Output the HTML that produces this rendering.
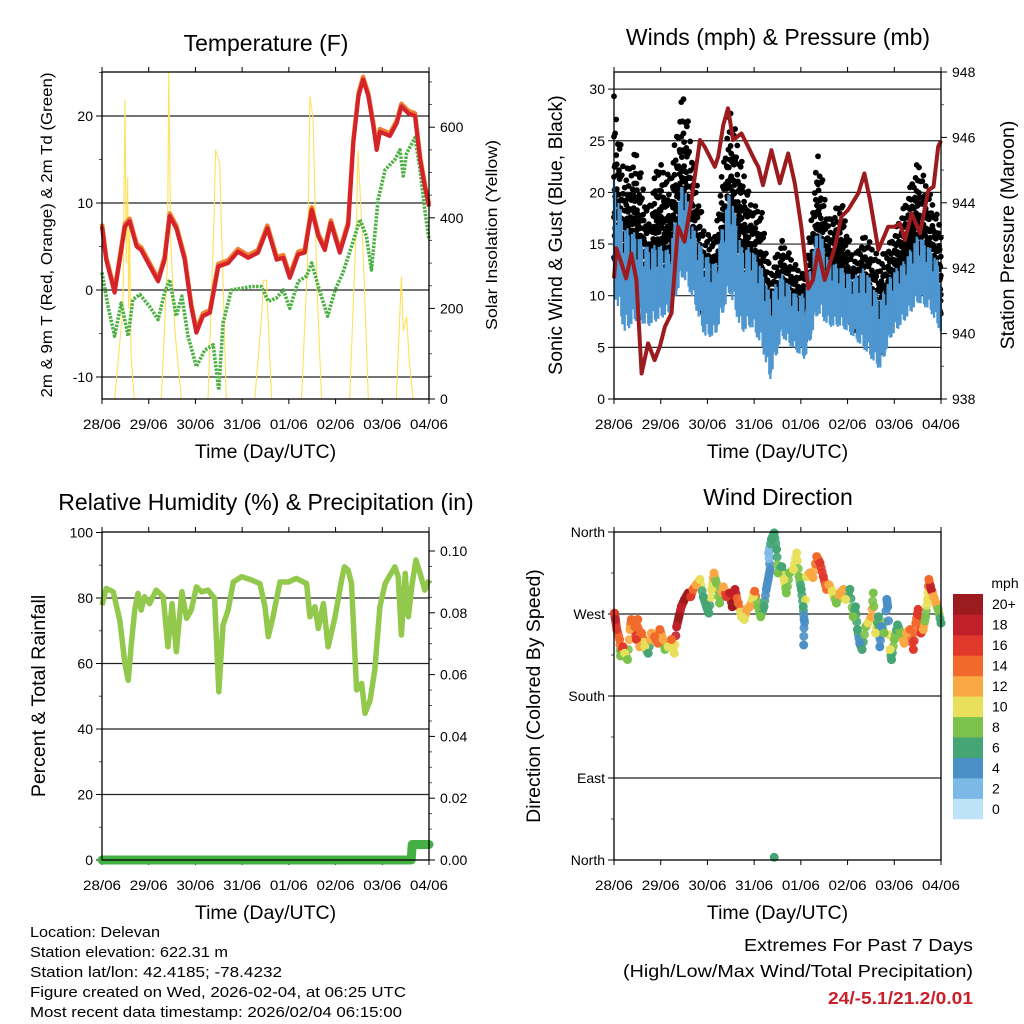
<!DOCTYPE html>
<html><head><meta charset="utf-8"><style>
html,body{margin:0;padding:0;background:#fff;}
svg{display:block;font-family:"Liberation Sans",Arial,sans-serif;}
</style></head><body>
<svg id="chart" width="1024" height="1024" viewBox="0 0 1024 1024" xmlns="http://www.w3.org/2000/svg">
<rect x="0" y="0" width="1024" height="1024" fill="#fff"/>
<g id="layer"></g>
</svg>
<script>
// ---------- DATA ----------
const dayLabels = ["28/06","29/06","30/06","31/06","01/06","02/06","03/06","04/06"];
// Temperature (F)
const tempT = [0,.09,.27,.38,.49,.59,.74,.84,.99,1.2,1.34,1.45,1.59,1.77,1.91,2.02,2.16,2.31,2.49,2.7,2.91,3.13,3.34,3.54,3.74,3.88,4.02,4.2,4.34,4.49,4.63,4.77,4.9,5.09,5.27,5.38,5.49,5.59,5.7,5.81,5.88,5.95,6.16,6.31,6.41,6.56,6.7,6.81,6.91,7];
const tempV = [7.3,3.5,-0.3,3.5,7.3,7.9,5,4.6,3.1,1,3.5,8.5,7.1,3.5,-1.9,-4.9,-3,-2.6,2.7,3.1,4.4,3.7,4.3,7.1,3.5,3.7,1.4,4.1,4.3,9.2,6.2,4.6,7.7,4.3,7.5,16.9,22.3,24.2,22.3,18.8,16.1,18.2,17.7,19.2,21.1,20.3,20,15,11.9,9.6];
const dewT = [0,.13,.27,.41,.56,.66,.81,1.02,1.2,1.34,1.45,1.59,1.71,1.84,2.02,2.2,2.38,2.5,2.59,2.77,2.99,3.2,3.41,3.56,3.74,3.88,4.02,4.2,4.38,4.49,4.63,4.83,4.99,5.16,5.34,5.52,5.66,5.77,5.91,6.06,6.27,6.38,6.45,6.52,6.7,6.81,6.91,7];
const dewV = [2,-1.9,-5.3,-1.5,-5.3,-1.1,-0.5,-1.9,-3.4,-0.3,1.2,-3,-0.7,-5.3,-8.8,-6.9,-6.3,-11.5,-3.8,0,0.2,0.4,0.4,-1.3,-0.9,0,-2.1,1,1.6,3.1,0.4,-3,0,2,5,8.1,6.2,2.3,10.4,13.8,15,16.1,13.1,15.7,17.5,13.8,9.2,5.8];
const solarT = [0,.27,.45,.49,.52,.55,.57,.59,.62,.69,1.27,1.4,1.43,1.47,1.56,1.7,2.27,2.4,2.43,2.52,2.66,3.27,3.43,3.45,3.52,3.63,4.27,4.4,4.45,4.52,4.6,4.7,5.3,5.45,5.48,5.6,5.7,6.3,6.41,6.45,6.52,6.58,6.66,7];
const solarV = [0,0,200,660,300,490,200,380,100,0,0,300,722,350,150,0,0,400,550,520,0,0,200,262,262,0,0,300,667,620,250,0,0,400,549,300,0,0,270,150,182,80,0,0];
// Winds (mph) & pressure (mb)
const windT = [0,.23,.48,.73,.94,1.19,1.48,1.69,1.94,2.16,2.48,2.73,2.94,3.16,3.34,3.59,3.87,4.09,4.37,4.59,4.87,5.12,5.37,5.69,5.94,6.23,6.51,6.76,7];
const gustHi = [29.3,21.8,24.1,18.3,23.1,21.5,29.9,23.8,16,15.7,28.6,23.1,18.9,18.3,12.2,15.4,13.1,11.8,24.1,17.3,19.3,13.5,16,13.5,15.4,18.9,23.1,19.9,16.7];
const gustLo = [14.7,12.5,13.7,9.9,14,12.5,16.9,13.7,8.6,9.2,16.3,13.1,11.8,9.9,6,9.2,7.6,6.6,13.7,9.9,11.8,7.6,9.2,5.4,9.2,12.5,13.7,12.5,9.2];
const windHi = [21.2,16.7,16,14.7,15,14.4,21.5,16.7,14.1,13.1,20.5,14.7,14.7,12.8,10.2,12.2,10.2,10.2,17,13.5,12.8,11.8,12.8,9.6,12.2,13.5,16,14.7,12.8];
const windLo = [10.2,6.4,7.6,7,7.6,8.3,11.8,9.6,6,6,10.2,6.4,7,5.1,1.8,6,4.7,3.8,8.3,7,7,6,4.7,2.8,6,7.6,9.3,8.6,6.4];
const presT = [0,.05,.16,.26,.37,.48,.59,.73,.87,.98,1.09,1.23,1.37,1.51,1.66,1.84,1.94,2.16,2.23,2.34,2.44,2.55,2.73,2.87,3.01,3.09,3.19,3.37,3.55,3.73,3.87,4.01,4.16,4.26,4.37,4.51,4.73,4.87,5.01,5.23,5.36,5.48,5.66,5.87,6.01,6.12,6.23,6.37,6.55,6.73,6.84,6.94,7];
const presV = [941.69,942.61,942.15,941.69,942.45,941.64,938.78,939.7,939.19,939.6,940.21,940.62,943.27,942.81,944.09,945.92,945.72,945.1,945.41,946.38,946.89,945.92,946.12,945.72,945.31,945.1,944.54,945.61,944.6,945.51,944.6,943.27,941.38,941.64,942.56,941.64,942.66,943.58,943.78,944.29,944.9,944.09,942.56,943.27,943.27,943.37,942.86,943.68,943.07,944.39,944.49,945.72,945.9];
// Relative humidity (%) & precipitation (in)
const rhT = [0,.09,.24,.38,.49,.56,.63,.7,.77,.84,.91,1.02,1.16,1.31,1.41,1.5,1.59,1.71,1.81,1.91,2.02,2.13,2.27,2.41,2.5,2.59,2.7,2.81,2.99,3.2,3.38,3.49,3.56,3.66,3.81,3.99,4.16,4.38,4.45,4.56,4.63,4.74,4.84,4.99,5.13,5.19,5.27,5.34,5.45,5.56,5.63,5.74,5.84,5.95,6.06,6.27,6.34,6.41,6.49,6.56,6.63,6.72,6.81,6.91,7];
const rhV = [77.8,82.9,81.9,73.2,60,54.9,66.1,76.3,81.4,76.3,80.4,78.3,82.4,80.4,65.1,78.3,63.6,81.9,73.8,76.3,83.4,81.9,82.4,79.9,51.4,71.7,76.3,84.9,86.5,85.5,84.4,77.3,68.2,74.3,84.9,84.9,86,84.4,74.3,77.3,70.7,78.3,65.1,74.3,85.5,89.5,88.5,84.4,51.9,53.9,44.8,48.8,58,77.3,84.4,89.5,86.5,68.7,87.5,74.3,83.4,91.6,87.5,82.4,85.5];
const precT = [0,6.62,6.64,7];
const precV = [0,0,0.005,0.005];
// Wind direction (deg) colored by speed (mph)
const dirT = [.01,.03,.06,.12,.14,.19,.23,.29,.34,.37,.44,.48,.51,.55,.59,.66,.73,.8,.87,.94,.98,1.05,1.09,1.16,1.23,1.29,1.34,1.39,1.44,1.51,1.59,1.64,1.69,1.76,1.84,1.91,1.98,2.03,2.09,2.14,2.19,2.26,2.34,2.41,2.48,2.53,2.59,2.66,2.73,2.79,2.84,2.91,2.98,3.01,3.09,3.14,3.21,3.26,3.3,3.34,3.31,3.37,3.43,3.48,3.51,3.59,3.64,3.69,3.76,3.84,3.91,3.96,4.01,4.05,4.07,4.06,4.12,4.19,4.26,4.34,4.41,4.48,4.55,4.6,4.67,4.76,4.84,4.91,4.96,5.05,5.12,5.17,5.21,5.26,5.31,5.39,5.44,5.51,5.55,5.6,5.66,5.69,5.73,5.78,5.84,5.86,5.91,5.94,6,6.07,6.14,6.21,6.26,6.34,6.41,6.46,6.51,6.57,6.62,6.67,6.71,6.74,6.79,6.84,6.89,6.94,7.0,3.43];
const dirDeg = [271,264,253,242,224,234,227,220,253,264,256,242,264,234,249,234,227,249,245,238,253,242,231,234,242,227,256,267,278,286,293,289,297,302,308,289,278,271,297,315,304,282,300,289,293,278,297,282,267,264,275,278,289,295,278,267,278,297,308,319,337,352,359,341,315,322,308,293,315,319,337,311,297,278,264,236,311,315,310,333,326,311,297,302,295,282,293,297,286,297,267,278,253,238,231,256,260,267,293,249,267,234,256,249,286,278,231,220,242,258,249,238,249,253,231,260,275,249,253,267,286,308,297,289,282,275,260,3];
const dirSpd = [16,18,16,14,9,16,10,9,13,14,15,16,14,12,14,10,7,12,14,14,15,13,8,10,14,10,18,20,18,20,20,16,14,12,10,7,6,6,10,12,9,8,13,16,18,20,18,14,11,10,13,12,10,14,8,8,7,5,4,4,3,7,7,7,9,7,10,9,8,10,10,8,7,6,4,4,10,13,12,14,16,17,15,12,10,9,13,12,11,7,8,7,6,5,7,9,11,12,9,10,6,4,5,8,5,4,10,7,8,7,9,12,13,14,16,15,16,17,12,9,10,14,18,12,12,8,7,6];
const spdLabels = ["0","2","4","6","8","10","12","14","16","18","20+"];
const spdColors = ["#bde3f8","#7cb9e6","#4b8fc7","#45a574","#7bc24c","#e8e05a","#f9a843","#f16a2c","#e0392b","#c0202a","#9b1b1e"];

// ---------- RENDER ----------
const NS = "http://www.w3.org/2000/svg";
const layer = document.getElementById("layer");
function mk(tag, attrs, parent) {
  const e = document.createElementNS(NS, tag);
  for (const k in attrs) e.setAttribute(k, attrs[k]);
  (parent || layer).appendChild(e);
  return e;
}
function txt(s, x, y, size, anchor, parent, extra) {
  const t = mk("text", Object.assign({x: x, y: y, "font-size": size, "text-anchor": anchor || "middle", fill: "#000"}, extra || {}), parent);
  t.textContent = s;
  return t;
}
function interp(ts, vs, t) {
  if (t <= ts[0]) return vs[0];
  for (let i = 1; i < ts.length; i++) if (t <= ts[i]) {
    const f = (t - ts[i-1]) / (ts[i] - ts[i-1] || 1);
    return vs[i-1] + f * (vs[i] - vs[i-1]);
  }
  return vs[vs.length-1];
}
function pathFrom(ts, vs, xf, yf) {
  return ts.map((t, i) => (i ? "L" : "M") + xf(t).toFixed(1) + "," + yf(vs[i]).toFixed(1)).join(" ");
}
const PW = 327;
function xAxis(x0, y0, y1, g) {
  const xf = d => x0 + d * PW / 7;
  dayLabels.forEach((lab, i) => {
    const x = xf(i);
    mk("line", {x1: x, y1: y1, x2: x, y2: y1 + 5, stroke: "#000", "stroke-width": 1}, g);
    mk("line", {x1: x, y1: y0, x2: x, y2: y0 - 5, stroke: "#000", "stroke-width": 1}, g);
    const t = txt(lab, x, y1 + 30, 13.5, "middle", g, {textLength: 38, lengthAdjust: "spacingAndGlyphs"});
    
    
  });
  const tt = txt("Time (Day/UTC)", x0 + PW / 2, y1 + 59, 19.5, "middle", g);
  
  
  return xf;
}
function box(x0, y0, y1, g) {
  mk("rect", {x: x0, y: y0, width: PW, height: y1 - y0, fill: "none", stroke: "#000", "stroke-width": 1.3}, g);
}
function yTicks(vals, labels, yf, x, side, g, withGrid, x0, gridName) {
  vals.forEach((v, i) => {
    const y = yf(v);
    if (withGrid) {
      const gl = mk("line", {x1: x0, y1: y, x2: x0 + PW, y2: y, stroke: "#222", "stroke-width": 1.2}, g);
      
      
    }
    mk("line", {x1: x, y1: y, x2: x + (side < 0 ? -6 : 6), y2: y, stroke: "#000", "stroke-width": 1}, g);
    if (labels[i] !== "") {
      const t = txt(labels[i], side < 0 ? x - 9 : x + 11, y + 5, 14, side < 0 ? "end" : "start", g);
      
      
    }
  });
}
function minor(vals, yf, x, side, g) {
  vals.forEach(v => { const y = yf(v); mk("line", {x1: x, y1: y, x2: x + (side < 0 ? -3 : 3), y2: y, stroke: "#555", "stroke-width": 1}, g); });
}
function rotTitle(s, x, y, size, g, name, len) {
  const ex = {transform: "rotate(-90 " + x + " " + y + ")"};
  if (len) { ex.textLength = len; ex.lengthAdjust = "spacingAndGlyphs"; }
  const t = txt(s, x, y, size, "middle", g, ex);
  
  
}
function title(s, x, y, g, name) {
  const t = txt(s, x, y, 23, "middle", g);
  
  
}

// ===== Panel 1: Temperature =====
(function(){
  const g = mk("g", {});
  
  
  const X0 = 102, Y0 = 72, Y1 = 399;
  const yf = v => 290 - v * 8.7;
  const yS = v => 399 - v * 0.453;
  title("Temperature (F)", 266, 51, g, "temperature-title");
  yTicks([20,10,0,-10], ["20","10","0","-10"], yf, X0, -1, g, true, X0, "temp-gridline");
  minor([25,15,5,-5], yf, X0, -1, g);
  yTicks([600,400,200,0], ["600","400","200","0"], yS, X0 + PW, 1, g, false);
  minor([50,100,150,250,300,350,450,500,550,650,700], yS, X0 + PW, 1, g);
  const xf = xAxis(X0, Y0, Y1, g);
  const sol = mk("path", {d: pathFrom(solarT, solarV, xf, yS), fill: "none", stroke: "#ffe15a", "stroke-width": 1.1}, g);
  
  
  const dew = mk("path", {d: pathFrom(dewT, dewV, xf, yf), fill: "none", stroke: "#4cb044", "stroke-width": 3.6, "stroke-dasharray": "2.4 1.3", "stroke-linejoin": "round"}, g);
  
  
  const t9 = mk("path", {d: pathFrom(tempT, tempV.map(v => v + 0.3), xf, yf), fill: "none", stroke: "#f08030", "stroke-width": 4.5, "stroke-linejoin": "round"}, g);
  
  
  const t2 = mk("path", {d: pathFrom(tempT, tempV, xf, yf), fill: "none", stroke: "#d4232a", "stroke-width": 4.2, "stroke-linejoin": "round"}, g);
  
  
  box(X0, Y0, Y1, g);
  rotTitle("2m & 9m T (Red, Orange) & 2m Td (Green)", 52, 235, 16, g, "temperature-y-axis-title", 325);
  rotTitle("Solar Insolation (Yellow)", 497, 235, 16, g, "solar-y-axis-title", 190);
})();

// ===== Panel 2: Winds & pressure =====
(function(){
  const g = mk("g", {});
  
  
  const X0 = 614, Y0 = 72, Y1 = 399;
  const yf = v => 399 - v * 10.33;
  const yP = v => 399 - (v - 938) * 32.7;
  title("Winds (mph) & Pressure (mb)", 778, 45, g, "winds-title");
  yTicks([30,25,20,15,10,5,0], ["30","25","20","15","10","5","0"], yf, X0, -1, g, true, X0, "wind-gridline");
  yTicks([948,946,944,942,940,938], ["948","946","944","942","940","938"], yP, X0 + PW, 1, g, false);
  minor([947,945,943,941,939], yP, X0 + PW, 1, g);
  const xf = xAxis(X0, Y0, Y1, g);
  const pat = [1,0.55,0.8,0.35,0.95,0.65,0.45,0.85,0.25,0.7,0.9,0.5];
  // gust dots
  const gg = mk("g", {fill: "#000"}, g);
  
  
  let k = 0;
  for (let t = 0; t <= 7; t += 0.012) {
    const hi = interp(windT, gustHi, t), lo = interp(windT, gustLo, t);
    const top = lo + (hi - lo) * pat[k % pat.length];
    const n = 5;
    for (let j = 0; j < n; j++) {
      const v = lo - 1 + (top - lo + 1) * (j / (n - 1));
      mk("circle", {cx: xf(t).toFixed(1), cy: yf(v).toFixed(1), r: 2.9}, gg);
    }
    k++;
  }
  // wind spikes
  const wb = mk("g", {stroke: "#4e96d0", "stroke-width": 2.3}, g);
  
  
  k = 0;
  for (let t = 0; t <= 7; t += 0.012) {
    const hi = interp(windT, windHi, t), lo = interp(windT, windLo, t);
    const p = pat[(k * 5) % pat.length];
    const top = lo + (hi - lo) * (0.35 + 0.65 * p);
    const bot = lo + (hi - lo) * (0.35 * (1 - pat[(k * 7 + 3) % pat.length]));
    mk("line", {x1: xf(t).toFixed(1), x2: xf(t).toFixed(1), y1: yf(top).toFixed(1), y2: yf(bot).toFixed(1)}, wb);
    k++;
  }
  const pr = mk("path", {d: pathFrom(presT, presV, xf, yP), fill: "none", stroke: "#9b1b1e", "stroke-width": 4, "stroke-linejoin": "round"}, g);
  
  
  box(X0, Y0, Y1, g);
  rotTitle("Sonic Wind & Gust (Blue, Black)", 562, 235, 19.5, g, "wind-y-axis-title");
  rotTitle("Station Pressure (Maroon)", 1014, 235, 19.5, g, "pressure-y-axis-title");
})();

// ===== Panel 3: RH & precip =====
(function(){
  const g = mk("g", {});
  
  
  const X0 = 102, Y0 = 532, Y1 = 860;
  const yf = v => 860 - v * 3.275;
  const yR = v => 860 - v * 3090;
  title("Relative Humidity (%) & Precipitation (in)", 266, 510, g, "humidity-title");
  yTicks([100,80,60,40,20,0], ["100","80","60","40","20","0"], yf, X0, -1, g, false);
  [80,60,40,20].forEach(v => {
    const gl = mk("line", {x1: X0, y1: yf(v), x2: X0 + PW, y2: yf(v), stroke: "#222", "stroke-width": 1.2}, g);
    
    
  });
  minor([90,70,50,30,10], yf, X0, -1, g);
  yTicks([0.10,0.08,0.06,0.04,0.02,0.00], ["0.10","0.08","0.06","0.04","0.02","0.00"], yR, X0 + PW, 1, g, false);
  minor([0.09,0.07,0.05,0.03,0.01,0.005,0.015,0.025,0.035,0.045,0.055,0.065,0.075,0.085,0.095], yR, X0 + PW, 1, g);
  const xf = xAxis(X0, Y0, Y1, g);
  const rh = mk("path", {d: pathFrom(rhT, rhV, xf, yf), fill: "none", stroke: "#92c94c", "stroke-width": 5.5, "stroke-linejoin": "round"}, g);
  
  
  const pc = mk("path", {d: pathFrom(precT, precV, xf, yR), fill: "none", stroke: "#44b044", "stroke-width": 9, "stroke-linejoin": "round", "stroke-linecap": "round"}, g);
  
  
  box(X0, Y0, Y1, g);
  rotTitle("Percent & Total Rainfall", 45, 696, 19.5, g, "humidity-y-axis-title");
})();

// ===== Panel 4: Wind direction =====
(function(){
  const g = mk("g", {});
  
  
  const X0 = 614, Y0 = 532, Y1 = 860;
  const yf = v => 860 - v * 328 / 360;
  title("Wind Direction", 778, 505, g, "wind-direction-title");
  yTicks([360,270,180,90,0], ["North","West","South","East","North"], yf, X0, -1, g, false);
  [270,180,90].forEach(v => {
    const gl = mk("line", {x1: X0, y1: yf(v), x2: X0 + PW, y2: yf(v), stroke: "#222", "stroke-width": 1.2}, g);
    
    
  });
  minor([315,225,135,45], yf, X0, -1, g);
  const xf = xAxis(X0, Y0, Y1, g);
  const col = s => spdColors[Math.min(10, Math.max(0, Math.floor(s / 2)))];
  const dg = mk("g", {}, g);
  
  
  for (let i = 0; i < dirT.length - 1; i++) {
    if (Math.abs(dirT[i+1] - dirT[i]) < 0.12) {
      for (const f of [0.33, 0.66]) {
        const t = dirT[i] + f * (dirT[i+1] - dirT[i]);
        const d = dirDeg[i] + f * (dirDeg[i+1] - dirDeg[i]);
        const s = f < 0.5 ? dirSpd[i] : dirSpd[i+1];
        const c = mk("circle", {cx: xf(t).toFixed(1), cy: yf(d).toFixed(1), r: 4.5, fill: col(s), "fill-opacity": 0.9}, dg);
        
        
      }
    }
  }
  dirT.forEach((t, i) => {
    const c = mk("circle", {cx: xf(t).toFixed(1), cy: yf(dirDeg[i]).toFixed(1), r: 4.5, fill: col(dirSpd[i])}, dg);
    
    
  });
  box(X0, Y0, Y1, g);
  rotTitle("Direction (Colored By Speed)", 540, 696, 19.5, g, "direction-y-axis-title");
  // color bar
  const cb = mk("g", {}, g);
  
  
  const mphT = txt("mph", 1005, 588, 14, "middle", cb);
  
  
  const bh = 225 / 11;
  spdLabels.forEach((lab, i) => {
    const y = 594 + (10 - i) * bh;
    const r = mk("rect", {x: 953, y: y.toFixed(1), width: 30, height: (bh + 0.3).toFixed(1), fill: spdColors[i]}, cb);
    
    
    const t = txt(lab, 992, y + bh / 2 + 5, 14, "start", cb);
    
    
  });
})();

// ===== Footer =====
(function(){
  const g = mk("g", {});
  
  
  const lines = [["Location: Delevan",130],["Station elevation: 622.31 m",198],["Station lat/lon: 42.4185; -78.4232",252],["Figure created on Wed, 2026-02-04, at 06:25 UTC",376],["Most recent data timestamp: 2026/02/04 06:15:00",372]];
  lines.forEach((l, i) => {
    const t = txt(l[0], 30, 937 + i * 20, 15, "start", g, {textLength: l[1], lengthAdjust: "spacingAndGlyphs"});
    
    
  });
  const e = mk("g", {});
  
  
  const a = txt("Extremes For Past 7 Days", 973, 951, 17.5, "end", e, {textLength: 229, lengthAdjust: "spacingAndGlyphs"});
  
  
  const b = txt("(High/Low/Max Wind/Total Precipitation)", 973, 977, 17.5, "end", e, {textLength: 350, lengthAdjust: "spacingAndGlyphs"});
  
  
  const c = txt("24/-5.1/21.2/0.01", 973, 1004, 17.5, "end", e, {fill: "#c8202a", "font-weight": "bold", textLength: 145, lengthAdjust: "spacingAndGlyphs"});
  
  
})();
</script>
</body></html>
